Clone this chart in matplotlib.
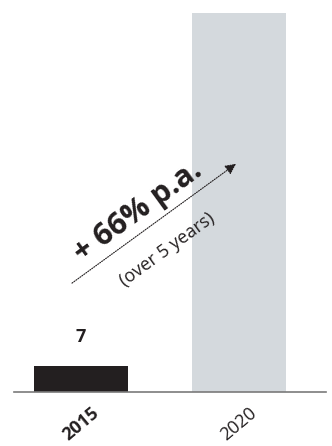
import matplotlib
matplotlib.use("Agg")
import matplotlib.pyplot as plt

plt.rcParams['font.family'] = ['Open Sans', 'DejaVu Sans']

years = ['2015', '2020']
values = [7, 102]
bar_colors = ['#231f20', '#d4d9dd']
growth_text = '+ 66% p.a.'
period_text = '(over 5 years)'

fig = plt.figure(figsize=(3.32, 4.46), dpi=100)
ax = fig.add_axes([14 / 332, 54 / 446, 312 / 332, 379 / 446])

x = list(range(len(years)))
ax.bar(x, values, width=0.595, color=bar_colors, zorder=2)

# label only on first bar
ax.text(x[0], values[0] + 7.8, str(values[0]), ha='center', va='center',
        fontsize=13, fontweight='bold', color='#231f20')

ax.set_xlim(-0.424, 1.551)
ax.set_ylim(0, values[1])

# growth arrow
ax.annotate('', xy=(0.981, 61.4), xytext=(-0.057, 29.3),
            arrowprops=dict(arrowstyle='-|>', linestyle=(0, (1, 1.2)),
                            color='#231f20', lw=0.8, mutation_scale=16,
                            shrinkA=0, shrinkB=0), zorder=3)
ax.text(0.36, 48.5, growth_text, rotation=36, rotation_mode='anchor',
        ha='center', va='center', fontsize=22, fontweight='bold',
        color='#231f20', zorder=4)
ax.text(0.544, 38.2, period_text, rotation=36, rotation_mode='anchor',
        ha='center', va='center', fontsize=13, color='#231f20', zorder=4)

for side in ['top', 'right', 'left']:
    ax.spines[side].set_visible(False)
ax.spines['bottom'].set_color('#7a7a7a')
ax.spines['bottom'].set_linewidth(1.2)
ax.set_yticks([])
ax.set_xticks(x)
ax.set_xticklabels(years, rotation=40, ha='center', va='center',
                   rotation_mode='anchor', fontsize=13, color='#231f20')
ax.get_xticklabels()[0].set_fontweight('bold')
ax.tick_params(axis='x', length=0, pad=23)

fig.savefig('out.png', dpi=100)
